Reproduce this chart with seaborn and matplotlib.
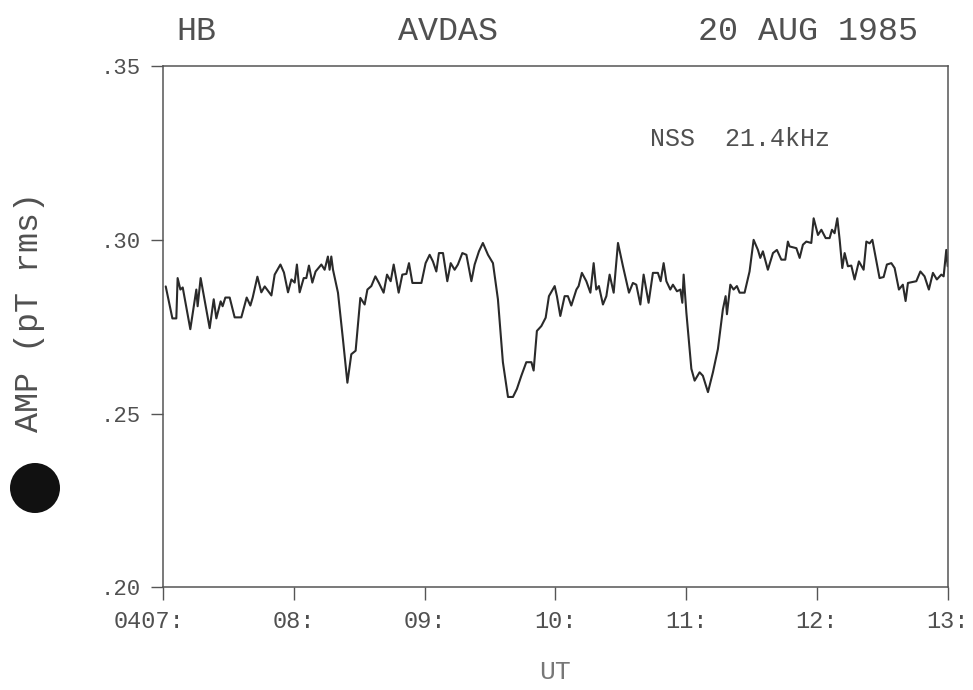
import matplotlib
matplotlib.use("Agg")
import matplotlib.pyplot as plt
import matplotlib.transforms as mtransforms
from matplotlib.patches import Ellipse
import seaborn as sns
import pandas as pd

# UT hours (07:00 -> 13:00) and amplitude (pT rms)
ut_hours = [
    7.021, 7.072, 7.102, 7.112, 7.133, 7.151, 7.209, 7.255, 7.265, 7.288,
    7.357, 7.388, 7.408, 7.441, 7.456, 7.477, 7.510, 7.548, 7.599, 7.640,
    7.668, 7.686, 7.722, 7.752, 7.778, 7.829, 7.854, 7.898, 7.925, 7.956,
    7.982, 8.007, 8.024, 8.045, 8.076, 8.096, 8.116, 8.142, 8.167, 8.211,
    8.236, 8.261, 8.274, 8.287, 8.300, 8.338, 8.376, 8.410, 8.440, 8.473,
    8.509, 8.542, 8.563, 8.593, 8.624, 8.651, 8.687, 8.713, 8.741, 8.764,
    8.802, 8.830, 8.861, 8.881, 8.907, 8.976, 9.008, 9.039, 9.064, 9.090,
    9.110, 9.141, 9.174, 9.200, 9.230, 9.255, 9.289, 9.320, 9.358, 9.383,
    9.416, 9.446, 9.485, 9.523, 9.561, 9.599, 9.638, 9.676, 9.706, 9.740,
    9.778, 9.817, 9.834, 9.859, 9.893, 9.926, 9.951, 9.995, 10.012, 10.038,
    10.071, 10.096, 10.122, 10.161, 10.178, 10.203, 10.237, 10.268, 10.293, 10.313,
    10.333, 10.364, 10.390, 10.415, 10.446, 10.479, 10.517, 10.563, 10.593, 10.619,
    10.650, 10.675, 10.713, 10.746, 10.784, 10.805, 10.828, 10.849, 10.879, 10.899,
    10.930, 10.956, 10.971, 10.981, 11.002, 11.040, 11.065, 11.103, 11.128, 11.167,
    11.205, 11.243, 11.281, 11.302, 11.312, 11.338, 11.363, 11.388, 11.409, 11.447,
    11.485, 11.516, 11.549, 11.567, 11.587, 11.625, 11.664, 11.694, 11.728, 11.758,
    11.778, 11.791, 11.843, 11.868, 11.893, 11.919, 11.957, 11.975, 12.008, 12.034,
    12.067, 12.097, 12.115, 12.135, 12.156, 12.174, 12.194, 12.212, 12.237, 12.263,
    12.288, 12.321, 12.357, 12.378, 12.403, 12.424, 12.479, 12.510, 12.535, 12.569,
    12.594, 12.627, 12.657, 12.678, 12.696, 12.760, 12.791, 12.823, 12.856, 12.887,
    12.917, 12.951, 12.969, 12.989, 13.000,
]
amp = [
    0.2866, 0.2774, 0.2774, 0.2890, 0.2857, 0.2863, 0.2743, 0.2857, 0.2809, 0.2890,
    0.2746, 0.2829, 0.2774, 0.2823, 0.2809, 0.2834, 0.2834, 0.2777, 0.2777, 0.2834,
    0.2811, 0.2834, 0.2894, 0.2849, 0.2866, 0.2840, 0.2900, 0.2929, 0.2906, 0.2849,
    0.2886, 0.2877, 0.2929, 0.2849, 0.2890, 0.2890, 0.2926, 0.2877, 0.2909, 0.2929,
    0.2914, 0.2952, 0.2914, 0.2952, 0.2914, 0.2848, 0.2714, 0.2589, 0.2671, 0.2681,
    0.2833, 0.2814, 0.2857, 0.2867, 0.2895, 0.2876, 0.2848, 0.2900, 0.2881, 0.2929,
    0.2848, 0.2900, 0.2902, 0.2933, 0.2876, 0.2876, 0.2933, 0.2957, 0.2938, 0.2909,
    0.2962, 0.2962, 0.2881, 0.2933, 0.2914, 0.2929, 0.2962, 0.2957, 0.2881, 0.2929,
    0.2967, 0.2991, 0.2957, 0.2933, 0.2829, 0.2648, 0.2548, 0.2548, 0.2571, 0.2609,
    0.2648, 0.2648, 0.2624, 0.2738, 0.2752, 0.2776, 0.2838, 0.2867, 0.2838, 0.2781,
    0.2838, 0.2838, 0.2811, 0.2857, 0.2867, 0.2905, 0.2881, 0.2848, 0.2933, 0.2857,
    0.2867, 0.2814, 0.2838, 0.2900, 0.2848, 0.2991, 0.2924, 0.2848, 0.2876, 0.2871,
    0.2814, 0.2900, 0.2819, 0.2905, 0.2905, 0.2881, 0.2933, 0.2881, 0.2857, 0.2871,
    0.2852, 0.2857, 0.2819, 0.2900, 0.2790, 0.2629, 0.2595, 0.2619, 0.2609, 0.2562,
    0.2619, 0.2686, 0.2800, 0.2838, 0.2786, 0.2871, 0.2857, 0.2867, 0.2848, 0.2848,
    0.2909, 0.3000, 0.2971, 0.2948, 0.2967, 0.2914, 0.2962, 0.2971, 0.2943, 0.2943,
    0.2995, 0.2981, 0.2976, 0.2948, 0.2986, 0.2995, 0.2991, 0.3062, 0.3014, 0.3029,
    0.3005, 0.3005, 0.3029, 0.3019, 0.3062, 0.3000, 0.2919, 0.2962, 0.2924, 0.2926,
    0.2886, 0.2938, 0.2914, 0.2995, 0.2990, 0.3000, 0.2890, 0.2893, 0.2929, 0.2933,
    0.2919, 0.2857, 0.2871, 0.2824, 0.2876, 0.2881, 0.2909, 0.2895, 0.2857, 0.2905,
    0.2886, 0.2900, 0.2895, 0.2971, 0.2924,
]

x_ticks = [7, 8, 9, 10, 11, 12, 13]
x_tick_labels = ["0407:", "08:", "09:", "10:", "11:", "12:", "13:"]
y_ticks = [0.20, 0.25, 0.30, 0.35]
y_tick_labels = [".20", ".25", ".30", ".35"]

ink = "#505050"

sns.set_style("ticks")
plt.rcParams["font.family"] = ["Liberation Mono", "DejaVu Sans Mono"]

df = pd.DataFrame({"UT": ut_hours, "AMP": amp})

fig = plt.figure(figsize=(9.73, 6.90), dpi=100)
ax = fig.add_axes([0.1675, 0.1486, 0.8065, 0.7557])

sns.lineplot(data=df, x="UT", y="AMP", ax=ax, color="#2a2a2a", lw=1.5,
             estimator=None, sort=True)

ax.set_xlim(7, 13)
ax.set_ylim(0.20, 0.35)
ax.set_xticks(x_ticks)
ax.set_xticklabels(x_tick_labels, fontsize=17, color=ink)
ax.set_yticks(y_ticks)
ax.set_yticklabels(y_tick_labels, fontsize=16, color=ink)
ax.tick_params(direction="out", length=9, width=1.0, color="#555555", pad=7)
# first label sits a little left of its tick
first = ax.get_xticklabels()[0]
first.set_transform(first.get_transform() +
                    mtransforms.ScaledTranslation(-14 / 100, 0, fig.dpi_scale_trans))
for sp in ax.spines.values():
    sp.set_visible(True)
    sp.set_color("#555555")
    sp.set_linewidth(1.1)

ax.set_xlabel("")
ax.set_ylabel("")

fig.text(30 / 973, 1 - 312 / 690, "AMP (pT rms)", rotation=90, ha="center",
         va="center", fontsize=24, color=ink)
fig.text(555 / 973, 1 - 672 / 690, "UT", ha="center", va="center",
         fontsize=19, color="#777777")

fig.text(196 / 973, 1 - 32 / 690, "HB", ha="center", va="center", fontsize=24, color=ink)
fig.text(448 / 973, 1 - 32 / 690, "AVDAS", ha="center", va="center", fontsize=24, color=ink)
fig.text(808 / 973, 1 - 32 / 690, "20 AUG 1985", ha="center", va="center", fontsize=24, color=ink)

ax.text(0.62, 0.86, "NSS  21.4kHz", transform=ax.transAxes, ha="left",
        va="center", fontsize=18, color=ink)

# punch hole on the scanned sheet
fig.add_artist(Ellipse((35 / 973, 1 - 488 / 690), 50 / 973, 50 / 690,
                       transform=fig.transFigure, facecolor="#111111",
                       edgecolor="none"))

fig.savefig("out.png", dpi=100)
